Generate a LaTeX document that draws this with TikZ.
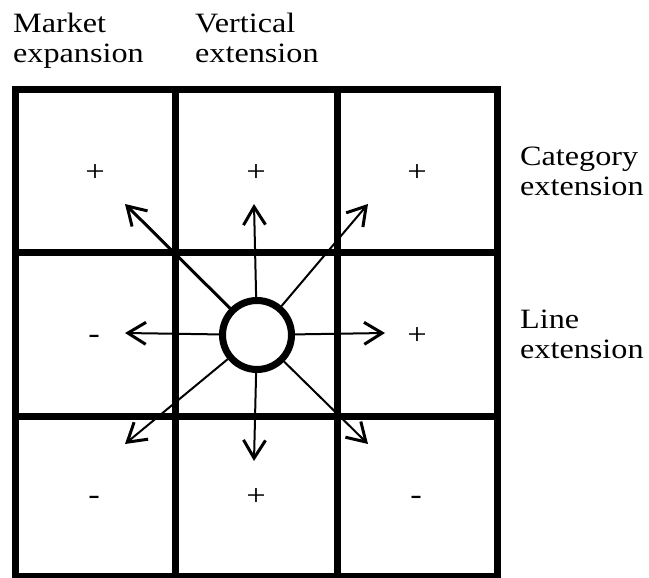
\documentclass[tikz,border=0pt]{standalone}
\usepackage{fontspec}
\setmainfont{Liberation Serif}[FakeStretch=1.15]
\usetikzlibrary{arrows.meta, positioning}

\begin{document}
\begin{tikzpicture}[x=1pt, y=-1pt,
  sidetext/.style={align=left, anchor=base west, inner sep=0pt, font=\fontsize{28}{30}\selectfont},
  sign/.style={anchor=base, inner sep=0pt, font=\fontsize{30}{30}\selectfont},
  gridline/.style={line width=7pt, line cap=rect},
  core/.style={circle, draw, line width=7pt, minimum size=69pt, inner sep=0pt},
  arrow/.style={-{Straight Barb[length=18pt, width=22pt, line width=3pt]}, line width=2pt}
]
\useasboundingbox (0,0) rectangle (649,578);

\foreach \x in {15,175,337,497}
  \draw[gridline] (\x,90) -- (\x,576);
\foreach \y in {90,252,416,576}
  \draw[gridline] (15,\y) -- (497,\y);

\foreach \x/\y/\s/\n in {95/182/+/a, 256/182/+/b, 417/182/+/c, 94/343/-/d, 417/344/+/f, 94/504/-/g, 256/505/+/h, 416/504/-/i}
  \node[sign] (sign-\n) at (\x,\y) {\s};

\node[sidetext] (market) at (13,63) {Market\\expansion};
\node[sidetext] (vertical) at (195,63) {Vertical\\extension};
\node[sidetext] (category) at (520,195) {Category\\extension};
\node[sidetext] (lineext) at (520,358) {Line\\extension};

\node[core] (core) at (257,335) {};

\coordinate (tip-n) at (254,204);
\coordinate (tip-ne) at (368,204);
\coordinate (tip-e) at (385,333);
\coordinate (tip-se) at (368,444);
\coordinate (tip-s) at (254,461);
\coordinate (tip-sw) at (125,444);
\coordinate (tip-w) at (125,333);
\coordinate (tip-nw) at (125,204);

\foreach \d in {n,ne,e,se,s,sw,w}
  \draw[arrow] (core) -- (tip-\d);
\draw[arrow, line width=3pt] (core) -- (tip-nw);
\end{tikzpicture}
\end{document}
